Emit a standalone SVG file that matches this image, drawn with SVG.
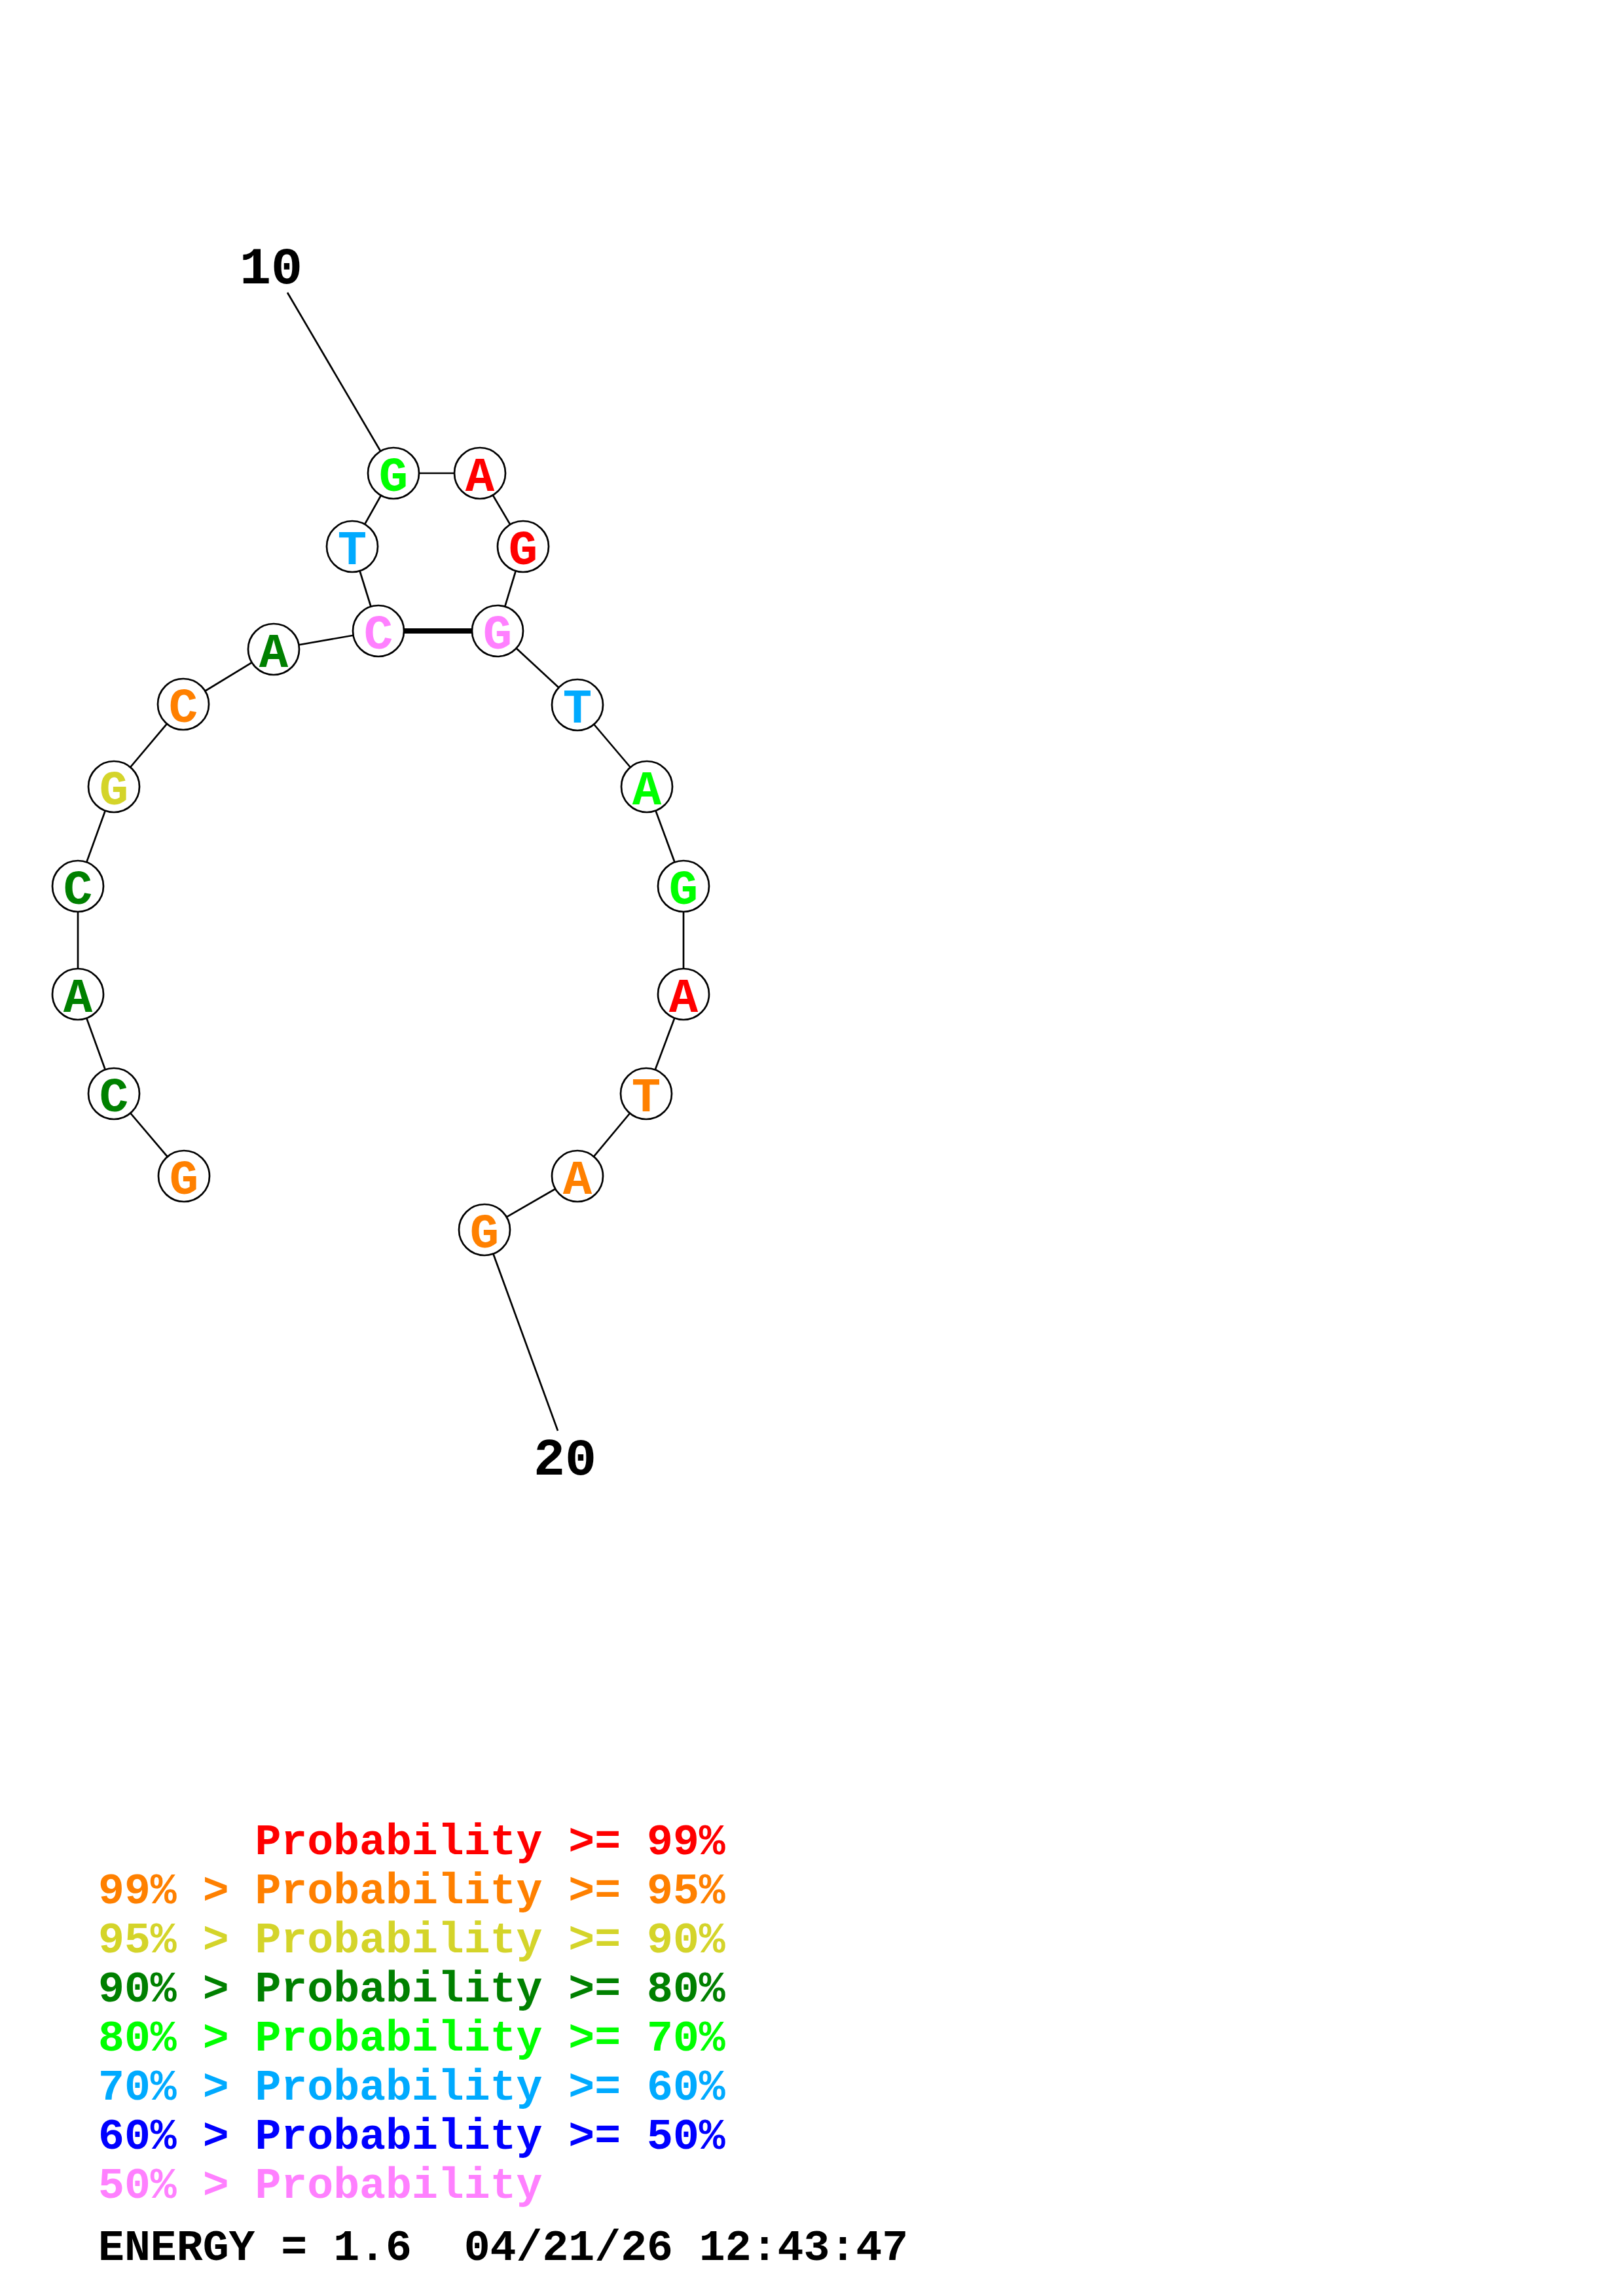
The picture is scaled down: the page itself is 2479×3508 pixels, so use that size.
<svg xmlns="http://www.w3.org/2000/svg" width="2479" height="3508" viewBox="0 0 2479 3508">
<style>
.bg{fill:#ffffff}
.bb{stroke:#000;stroke-width:2.7;fill:none}
.bp{stroke:#000;stroke-width:8;fill:none}
.nc{fill:#fff;stroke:#000;stroke-width:2.7}
.nt{font-family:"Liberation Mono","Courier New",monospace;font-weight:bold;font-size:74px;text-anchor:middle}
.lbl{font-family:"Liberation Mono","Courier New",monospace;font-weight:bold;font-size:80px;text-anchor:middle;fill:#000}
.lg{font-family:"Liberation Mono","Courier New",monospace;font-weight:bold;font-size:66.5px}
.red{fill:#ff0000}.org{fill:#ff8000}.yel{fill:#d4d42a}.dgr{fill:#008000}.grn{fill:#00ff00}.lbl2{fill:#00aaff}.blu{fill:#0000ff}.pnk{fill:#ff80ff}.blk{fill:#000}
</style>
<rect class="bg" x="0" y="0" width="2479" height="3508"/>
<g id="connectors">
<line class="bb" x1="439" y1="447" x2="601" y2="723"/>
<line class="bb" x1="852" y1="2186" x2="740" y2="1879"/>
<line class="bb" x1="281" y1="1797" x2="174" y2="1671"/>
<line class="bb" x1="174" y1="1671" x2="119" y2="1519"/>
<line class="bb" x1="119" y1="1519" x2="119" y2="1354"/>
<line class="bb" x1="119" y1="1354" x2="174" y2="1202"/>
<line class="bb" x1="174" y1="1202" x2="280" y2="1076"/>
<line class="bb" x1="280" y1="1076" x2="418" y2="992"/>
<line class="bb" x1="418" y1="992" x2="578" y2="964"/>
<line class="bb" x1="578" y1="964" x2="538" y2="835"/>
<line class="bb" x1="538" y1="835" x2="601" y2="723"/>
<line class="bb" x1="601" y1="723" x2="733" y2="723"/>
<line class="bb" x1="733" y1="723" x2="799" y2="835"/>
<line class="bb" x1="799" y1="835" x2="760" y2="964"/>
<line class="bb" x1="760" y1="964" x2="882" y2="1077"/>
<line class="bb" x1="882" y1="1077" x2="988" y2="1202"/>
<line class="bb" x1="988" y1="1202" x2="1044" y2="1354"/>
<line class="bb" x1="1044" y1="1354" x2="1044" y2="1519"/>
<line class="bb" x1="1044" y1="1519" x2="987" y2="1671"/>
<line class="bb" x1="987" y1="1671" x2="882" y2="1797"/>
<line class="bb" x1="882" y1="1797" x2="740" y2="1879"/>
<line class="bp" x1="578" y1="964" x2="760" y2="964"/>
</g>
<g id="n1"><circle class="nc" cx="281" cy="1797" r="39"/><text class="nt org" x="281" y="1824">G</text></g>
<g id="n2"><circle class="nc" cx="174" cy="1671" r="39"/><text class="nt dgr" x="174" y="1698">C</text></g>
<g id="n3"><circle class="nc" cx="119" cy="1519" r="39"/><text class="nt dgr" x="119" y="1546">A</text></g>
<g id="n4"><circle class="nc" cx="119" cy="1354" r="39"/><text class="nt dgr" x="119" y="1381">C</text></g>
<g id="n5"><circle class="nc" cx="174" cy="1202" r="39"/><text class="nt yel" x="174" y="1229">G</text></g>
<g id="n6"><circle class="nc" cx="280" cy="1076" r="39"/><text class="nt org" x="280" y="1103">C</text></g>
<g id="n7"><circle class="nc" cx="418" cy="992" r="39"/><text class="nt dgr" x="418" y="1019">A</text></g>
<g id="n8"><circle class="nc" cx="578" cy="964" r="39"/><text class="nt pnk" x="578" y="991">C</text></g>
<g id="n9"><circle class="nc" cx="538" cy="835" r="39"/><text class="nt lbl2" x="538" y="862">T</text></g>
<g id="n10"><circle class="nc" cx="601" cy="723" r="39"/><text class="nt grn" x="601" y="750">G</text></g>
<g id="n11"><circle class="nc" cx="733" cy="723" r="39"/><text class="nt red" x="733" y="750">A</text></g>
<g id="n12"><circle class="nc" cx="799" cy="835" r="39"/><text class="nt red" x="799" y="862">G</text></g>
<g id="n13"><circle class="nc" cx="760" cy="964" r="39"/><text class="nt pnk" x="760" y="991">G</text></g>
<g id="n14"><circle class="nc" cx="882" cy="1077" r="39"/><text class="nt lbl2" x="882" y="1104">T</text></g>
<g id="n15"><circle class="nc" cx="988" cy="1202" r="39"/><text class="nt grn" x="988" y="1229">A</text></g>
<g id="n16"><circle class="nc" cx="1044" cy="1354" r="39"/><text class="nt grn" x="1044" y="1381">G</text></g>
<g id="n17"><circle class="nc" cx="1044" cy="1519" r="39"/><text class="nt red" x="1044" y="1546">A</text></g>
<g id="n18"><circle class="nc" cx="987" cy="1671" r="39"/><text class="nt org" x="987" y="1698">T</text></g>
<g id="n19"><circle class="nc" cx="882" cy="1797" r="39"/><text class="nt org" x="882" y="1824">A</text></g>
<g id="n20"><circle class="nc" cx="740" cy="1879" r="39"/><text class="nt org" x="740" y="1906">G</text></g>
<g id="labels">
<text class="lbl" x="414" y="433">10</text>
<text class="lbl" x="863" y="2253">20</text>
</g>
<g id="legend">
<text class="lg red" x="389.4" y="2833">Probability &gt;= 99%</text>
<text class="lg org" x="150" y="2908" xml:space="preserve">99% &gt; Probability &gt;= 95%</text>
<text class="lg yel" x="150" y="2983" xml:space="preserve">95% &gt; Probability &gt;= 90%</text>
<text class="lg dgr" x="150" y="3058" xml:space="preserve">90% &gt; Probability &gt;= 80%</text>
<text class="lg grn" x="150" y="3133" xml:space="preserve">80% &gt; Probability &gt;= 70%</text>
<text class="lg lbl2" x="150" y="3208" xml:space="preserve">70% &gt; Probability &gt;= 60%</text>
<text class="lg blu" x="150" y="3283" xml:space="preserve">60% &gt; Probability &gt;= 50%</text>
<text class="lg pnk" x="150" y="3358" xml:space="preserve">50% &gt; Probability</text>
<text class="lg blk" x="150" y="3453" xml:space="preserve">ENERGY = 1.6  04/21/26 12:43:47</text>
</g>
</svg>
